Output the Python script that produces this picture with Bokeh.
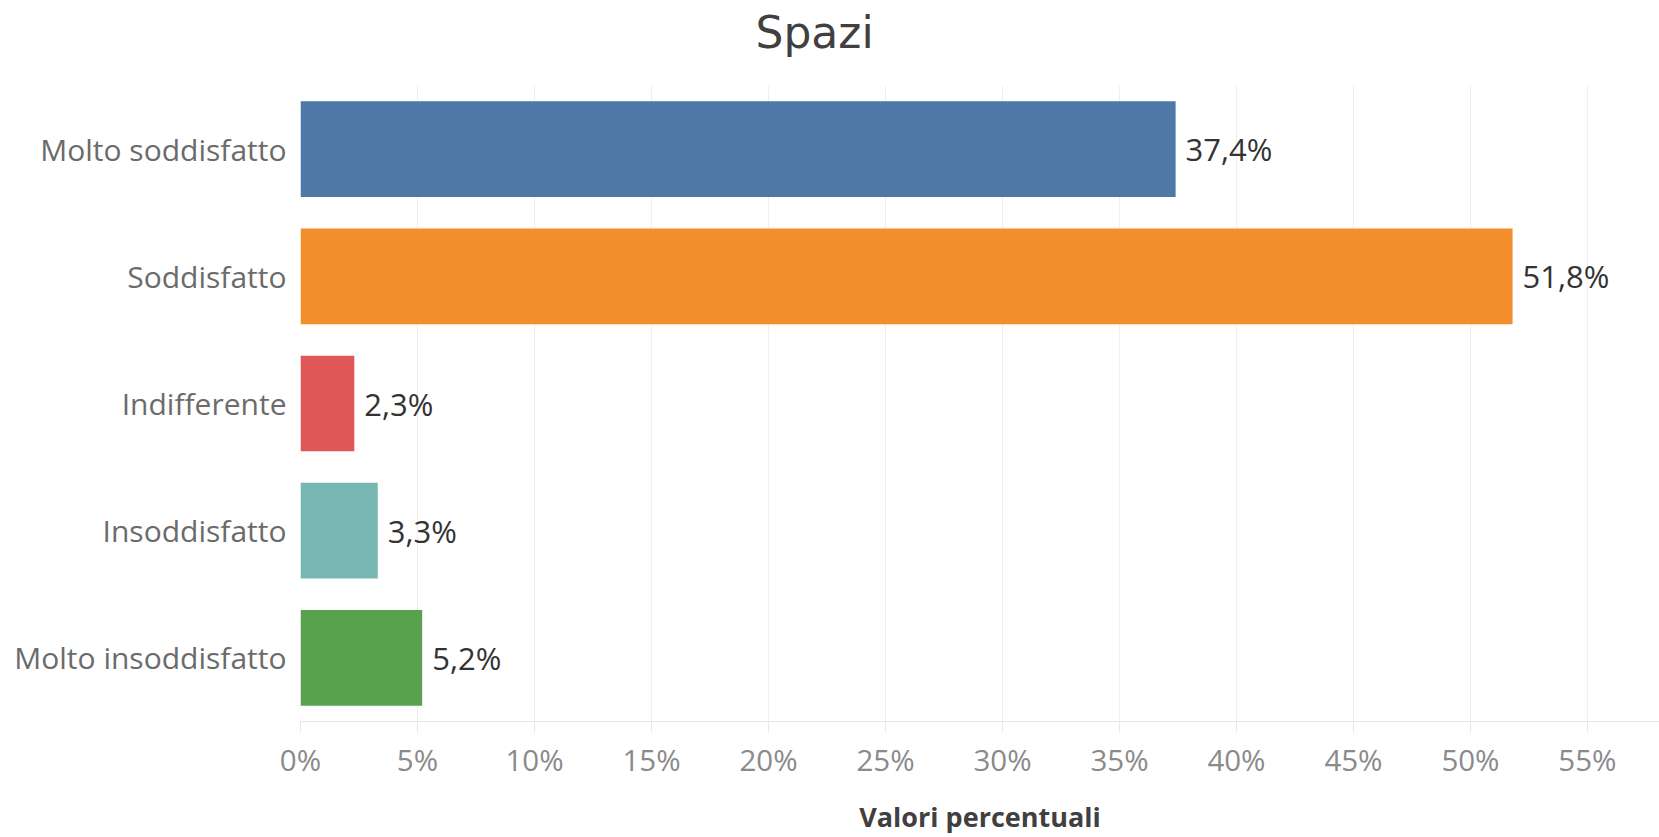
from bokeh.plotting import figure
from bokeh.models import ColumnDataSource, FactorRange, Range1d, FixedTicker, Title
from bokeh.core.properties import value
from bokeh.embed import file_html
from bokeh.resources import INLINE

categories = ["Molto soddisfatto", "Soddisfatto", "Indifferente", "Insoddisfatto", "Molto insoddisfatto"]
values = [37.4, 51.8, 2.3, 3.3, 5.2]
labels = ["37,4%", "51,8%", "2,3%", "3,3%", "5,2%"]
colors = ["#4E79A7", "#F28E2B", "#E15759", "#76B7B2", "#59A14F"]
ticks = [0, 5, 10, 15, 20, 25, 30, 35, 40, 45, 50, 55]
tick_labels = {t: f"{t}%" for t in ticks}
title_text = "Spazi"
x_title = "Valori percentuali"

FONT = "Open Sans"

src = ColumnDataSource(dict(cat=categories, val=values, lab=labels, col=colors))

p = figure(
    width=1659, height=837, title=None,
    y_range=FactorRange(factors=list(reversed(categories)), range_padding=0),
    x_range=Range1d(0, 58.08),
    output_backend="svg", toolbar_location=None,
    min_border_left=300, min_border_right=0, min_border_top=85, min_border_bottom=111,
)
p.outline_line_color = None

p.hbar(y="cat", right="val", left=0, height=0.752, fill_color="col", line_color=None, source=src)
p.text(x="val", y="cat", text="lab", source=src, x_offset=10, text_align="left",
       text_baseline="middle", text_font=value(FONT), text_font_size="31px", text_color="#333333")

# spacer between the frame and the title (keeps the title up near the top edge)
spacer = Title(text=" ", text_font_size="1px", standoff=22, text_color="#ffffff")
p.add_layout(spacer, "above")
title = Title(text=title_text, align="left", offset=455, standoff=6,
              text_font="DejaVu Sans", text_font_size="44px", text_font_style="normal",
              text_color="#404040")
p.add_layout(title, "above")

# x axis
xa = p.xaxis[0]
xa.ticker = FixedTicker(ticks=ticks)
xa.major_label_overrides = tick_labels
xa.major_label_text_font = FONT
xa.major_label_text_font_size = "29.5px"
xa.major_label_text_color = "#8a8a8a"
xa.axis_line_color = "#e8e8e8"
xa.major_tick_line_color = "#e8e8e8"
xa.major_tick_out = 11
xa.major_tick_in = 0
xa.minor_tick_line_color = None
xa.major_label_standoff = 6
xa.axis_label = x_title
xa.axis_label_text_font = FONT
xa.axis_label_text_font_size = "27px"
xa.axis_label_text_font_style = "bold"
xa.axis_label_text_color = "#404040"
xa.axis_label_standoff = 15

# y axis
ya = p.yaxis[0]
ya.axis_line_color = None
ya.major_tick_line_color = None
ya.minor_tick_line_color = None
ya.major_label_standoff = 8
ya.major_label_text_font = FONT
ya.major_label_text_font_size = "30px"
ya.major_label_text_color = "#6b6b6b"

p.xgrid.grid_line_color = "#efefef"
p.xgrid.grid_line_width = 1
p.ygrid.grid_line_color = None

open("out.html", "w").write(file_html(p, INLINE))
